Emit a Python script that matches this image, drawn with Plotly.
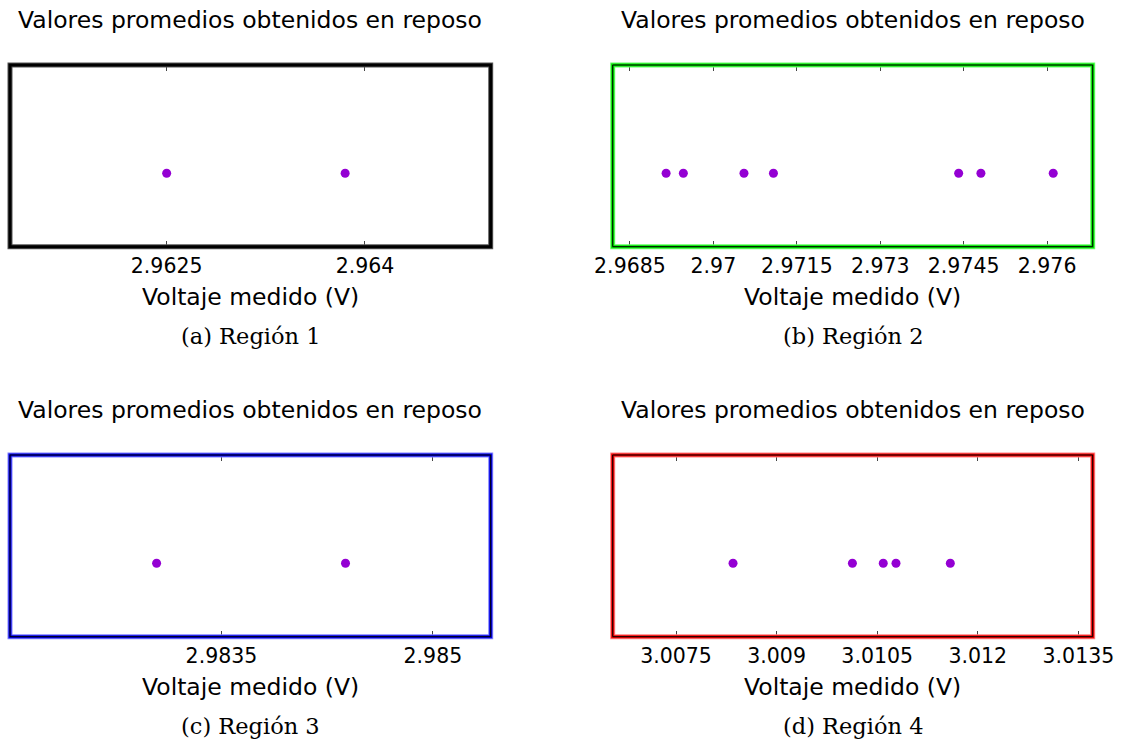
import plotly.graph_objects as go

# Data
region1_v = [2.9625, 2.96385]
region2_v = [2.96915, 2.96946, 2.97055, 2.97108, 2.97441, 2.97481, 2.97611]
region3_v = [2.98304, 2.98438]
region4_v = [3.00835, 3.01013, 3.01059, 3.01078, 3.01159]

ticks1 = [2.9625, 2.964]
ticks2 = [2.9685, 2.97, 2.9715, 2.973, 2.9745, 2.976]
ticks3 = [2.9835, 2.985]
ticks4 = [3.0075, 3.009, 3.0105, 3.012, 3.0135]
ticktext1 = ["2.9625", "2.964"]
ticktext2 = ["2.9685", "2.97", "2.9715", "2.973", "2.9745", "2.976"]
ticktext3 = ["2.9835", "2.985"]
ticktext4 = ["3.0075", "3.009", "3.0105", "3.012", "3.0135"]

title_text = "Valores promedios obtenidos en reposo"
xlabel_text = "Voltaje medido (V)"
captions = ["(a) Región 1", "(b) Región 2", "(c) Región 3", "(d) Región 4"]

W, H = 1122, 740

panels = [
    dict(vals=region1_v, ticks=ticks1, tt=ticktext1, rng=[2.961315, 2.964951],
         x0=10, x1=490.7, top=65, bot=246.7, color="#000000", light="#555555"),
    dict(vals=region2_v, ticks=ticks2, tt=ticktext2, rng=[2.96819, 2.97682],
         x0=612.7, x1=1092.7, top=65, bot=246.7, color="#00dd00", light="#66ff66"),
    dict(vals=region3_v, ticks=ticks3, tt=ticktext3, rng=[2.982, 2.98541],
         x0=10, x1=490.7, top=455, bot=636.7, color="#0000e0", light="#8080ff"),
    dict(vals=region4_v, ticks=ticks4, tt=ticktext4, rng=[3.006556, 3.013713],
         x0=612.7, x1=1092.7, top=455, bot=636.7, color="#ee0000", light="#ff8080"),
]

fig = go.Figure()
shapes = []
annotations = []
SANS = "DejaVu Sans"
SERIF = "DejaVu Serif"

for i, p in enumerate(panels):
    n = "" if i == 0 else str(i + 1)
    xa = "x" + n
    ya = "y" + n
    fig.add_trace(go.Scatter(
        x=p["vals"], y=[0] * len(p["vals"]), mode="markers",
        marker=dict(color="#9400d3", size=9, line=dict(width=0)),
        xaxis=xa, yaxis=ya, showlegend=False, hoverinfo="x"))
    dom_x = [p["x0"] / W, p["x1"] / W]
    dom_y = [(H - p["bot"]) / H, (H - p["top"]) / H]
    fig.layout["xaxis" + n] = dict(
        domain=dom_x, range=p["rng"], anchor=ya, tickmode="array",
        tickvals=p["ticks"], ticktext=p["tt"], ticks="inside", ticklen=6,
        tickwidth=1, tickcolor="#444444", mirror="allticks", showline=False,
        showgrid=False, zeroline=False, automargin=False,
        tickfont=dict(family=SANS, size=20.5, color="#000000"),
        ticklabelstandoff=5, fixedrange=True)
    fig.layout["yaxis" + n] = dict(
        domain=dom_y, range=[-0.404, 0.596], anchor=xa, showticklabels=False,
        ticks="", showgrid=False, zeroline=False, showline=False,
        automargin=False, fixedrange=True)
    # frame: colored thick border with thin dark centre line
    for col, w in [(p["light"], 5), (p["color"], 3), ("#000000", 1)]:
        shapes.append(dict(type="rect", xref=xa + " domain", yref=ya + " domain",
                           x0=0, x1=1, y0=0, y1=1, line=dict(color=col, width=w),
                           layer="above"))
    cx = (p["x0"] + p["x1"]) / 2 / W
    annotations.append(dict(text=title_text, x=cx, y=1 - (p["top"] - 45) / H,
                            xref="paper", yref="paper", showarrow=False,
                            xanchor="center", yanchor="middle",
                            font=dict(family=SANS, size=23.5, color="#000000")))
    annotations.append(dict(text=xlabel_text, x=cx, y=1 - (p["bot"] + 50) / H,
                            xref="paper", yref="paper", showarrow=False,
                            xanchor="center", yanchor="middle",
                            font=dict(family=SANS, size=23.5, color="#000000")))
    annotations.append(dict(text=captions[i], x=cx, y=1 - (p["bot"] + 89) / H,
                            xref="paper", yref="paper", showarrow=False,
                            xanchor="center", yanchor="middle",
                            font=dict(family=SERIF, size=22.5, color="#000000")))

fig.update_layout(width=W, height=H, margin=dict(l=0, r=0, t=0, b=0),
                  paper_bgcolor="white", plot_bgcolor="white",
                  shapes=shapes, annotations=annotations, showlegend=False)

fig.write_html("out.html", config={"displayModeBar": False})
